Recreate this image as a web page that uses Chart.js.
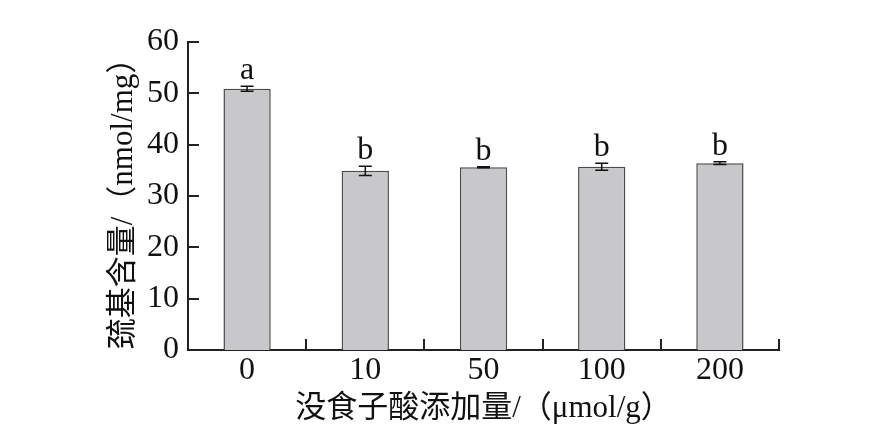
<!DOCTYPE html>
<html>
<head>
<meta charset="utf-8">
<script src="https://cdn.jsdelivr.net/npm/chart.js@4.4.1/dist/chart.umd.min.js"></script>
<style>
  html, body { margin: 0; padding: 0; background: #fff; }
  #wrap { width: 870px; height: 441px; }
</style>
</head>
<body>
<div id="wrap"><canvas id="chart" width="870" height="441"></canvas></div>
<script>
// Data
const categories = ['0', '10', '50', '100', '200'];
const thiolContent = [50.9, 34.9, 35.6, 35.7, 36.4];
const errors = [0.5, 0.9, 0.1, 0.7, 0.25];
const letters = ['a', 'b', 'b', 'b', 'b'];
const yTicks = [0, 10, 20, 30, 40, 50, 60];

const xTitle = '没食子酸添加量/（μmol/g）';
const yTitle = '巯基含量/（nmol/mg）';

const serif = "'Liberation Serif', 'Times New Roman', serif";
const titleFont = "'Liberation Serif', 'Noto Sans CJK SC', serif";
const ink = '#222';

/**
 * Inward tick marks, error bars and significance letters
 */
const decorations = {
  id: 'decorations',
  afterDatasetsDraw(chart) {
    const ctx = chart.ctx;
    const x = chart.scales.x;
    const y = chart.scales.y;
    const area = chart.chartArea;
    const tickLen = 11;

    ctx.save();
    ctx.strokeStyle = ink;
    ctx.lineWidth = 2;

    // y ticks pointing into the plot
    yTicks.forEach(v => {
      const py = Math.round(y.getPixelForValue(v));
      ctx.beginPath();
      ctx.moveTo(area.left, py);
      ctx.lineTo(area.left + tickLen, py);
      ctx.stroke();
    });

    // x ticks between categories, pointing up
    const half = (x.getPixelForValue(1) - x.getPixelForValue(0)) / 2;
    categories.forEach((c, i) => {
      const px = Math.round(x.getPixelForValue(i) + half);
      ctx.beginPath();
      ctx.moveTo(px, area.bottom);
      ctx.lineTo(px, area.bottom - tickLen);
      ctx.stroke();
    });

    // error bars
    const meta = chart.getDatasetMeta(0);
    ctx.lineWidth = 1.5;
    ctx.strokeStyle = '#111';
    const cap = 6.5;
    meta.data.forEach((bar, i) => {
      const top = y.getPixelForValue(thiolContent[i] + errors[i]);
      const bot = y.getPixelForValue(thiolContent[i] - errors[i]);
      ctx.beginPath();
      ctx.moveTo(bar.x, top);
      ctx.lineTo(bar.x, bot);
      ctx.moveTo(bar.x - cap, top);
      ctx.lineTo(bar.x + cap, top);
      ctx.moveTo(bar.x - cap, bot);
      ctx.lineTo(bar.x + cap, bot);
      ctx.stroke();

      // significance letter
      ctx.fillStyle = '#111';
      ctx.font = '32px ' + serif;
      ctx.textAlign = 'center';
      ctx.textBaseline = 'alphabetic';
      ctx.fillText(letters[i], bar.x, top - 7);
    });
    ctx.restore();
  }
};

const chart = new Chart(document.getElementById('chart'), {
  type: 'bar',
  data: {
    labels: categories,
    datasets: [{
      data: thiolContent,
      backgroundColor: '#c8c8ca',
      borderColor: '#4a4a4a',
      borderWidth: 1.5,
      borderSkipped: 'bottom',
      categoryPercentage: 1,
      barPercentage: 0.4
    }]
  },
  options: {
    responsive: false,
    animation: false,
    devicePixelRatio: 1,
    layout: {
      padding: { left: 100, right: 91, top: 42, bottom: 0 }
    },
    plugins: {
      legend: { display: false },
      tooltip: { enabled: false }
    },
    scales: {
      x: {
        grid: { display: false, drawTicks: false },
        border: { display: true, color: ink, width: 2 },
        ticks: {
          color: '#111',
          font: { family: serif, size: 32 },
          padding: 1,
          maxRotation: 0
        },
        title: {
          display: true,
          text: xTitle,
          color: '#111',
          font: { family: titleFont, size: 31 },
          padding: { top: 0, bottom: 14 }
        },
        afterFit(scale) { scale.height = 91; }
      },
      y: {
        min: 0,
        max: 60,
        grid: { display: false, drawTicks: false },
        border: { display: true, color: ink, width: 2 },
        ticks: {
          stepSize: 10,
          color: '#111',
          font: { family: serif, size: 32 },
          padding: 9
        },
        title: {
          display: true,
          text: yTitle,
          color: '#111',
          font: { family: titleFont, size: 31 },
          padding: { top: 5, bottom: 0 }
        },
        afterFit(scale) { scale.width = 88; }
      }
    }
  },
  plugins: [decorations]
});
</script>
</body>
</html>
